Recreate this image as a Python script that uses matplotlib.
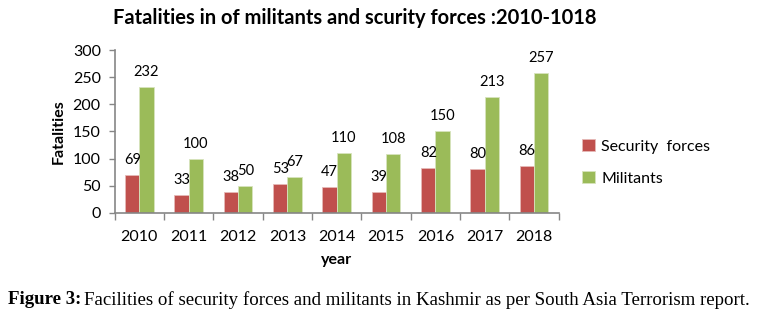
import matplotlib
matplotlib.use("Agg")
import matplotlib.pyplot as plt
import numpy as np

years = ["2010", "2011", "2012", "2013", "2014", "2015", "2016", "2017", "2018"]
security_forces = [69, 33, 38, 53, 47, 39, 82, 80, 86]
militants = [232, 100, 50, 67, 110, 108, 150, 213, 257]
yticks = [0, 50, 100, 150, 200, 250, 300]

plt.rcParams['font.family'] = ['Lato', 'DejaVu Sans']

fig = plt.figure(figsize=(7.75, 3.23), dpi=100)
ax = fig.add_axes([0.148, 0.341, 0.573, 0.504])

x = np.arange(len(years))
w = 0.29
red = '#C0504D'
green = '#9BBB59'
ax.bar(x - w/2, security_forces, w, color=red, edgecolor='#E6B9B8', linewidth=0.6, label='Security  forces')
ax.bar(x + w/2, militants, w, color=green, edgecolor='#D7E4BD', linewidth=0.6, label='Militants')

for xi, v in zip(x - w/2, security_forces):
    ax.annotate(str(v), (xi, v), xytext=(0, 15), textcoords='offset pixels',
                ha='center', va='center', fontsize=10.5)
for xi, v in zip(x + w/2, militants):
    ax.annotate(str(v), (xi, v), xytext=(0, 15), textcoords='offset pixels',
                ha='center', va='center', fontsize=10.5)

ax.set_xlim(-0.5, len(years) - 0.5)
ax.set_ylim(0, 300)
ax.set_yticks(yticks)
ax.set_yticklabels([str(t) for t in yticks], fontsize=11.5)
ax.set_xticks(x)
ax.set_xticklabels(years, fontsize=11.5)
ax.set_xticks(np.arange(len(years) + 1) - 0.5, minor=True)
ax.tick_params(axis='x', which='major', length=0, pad=12)
ax.tick_params(axis='x', which='minor', length=5, color='#868686', width=1)
ax.tick_params(axis='y', length=4, color='#868686', width=1, pad=6)

for s in ['top', 'right']:
    ax.spines[s].set_visible(False)
for s in ['left', 'bottom']:
    ax.spines[s].set_color('#868686')
    ax.spines[s].set_linewidth(1.2)

ax.set_ylabel('Fatalities', fontsize=11.5, fontweight='bold', labelpad=5)
ax.set_xlabel('year', fontsize=11.5, fontweight='bold', labelpad=7)

fig.text(0.458, 0.945, 'Fatalities in of militants and scurity forces :2010-1018',
         ha='center', va='center', fontsize=14.5, fontweight='bold')

ax.legend(loc='center left', bbox_to_anchor=(1.02, 0.31), frameon=False,
          fontsize=11.5, handlelength=0.8, handleheight=0.8, handletextpad=0.4,
          labelspacing=1.1)

fig.text(0.010, 0.072, 'Figure 3:', ha='left', va='center', fontsize=13.6,
         fontweight='bold', family=['Liberation Serif'])
fig.text(0.108, 0.072, 'Facilities of security forces and militants in Kashmir as per South Asia Terrorism report.',
         ha='left', va='center', fontsize=13.6, family=['Liberation Serif'])

fig.savefig('out.png', dpi=100)
